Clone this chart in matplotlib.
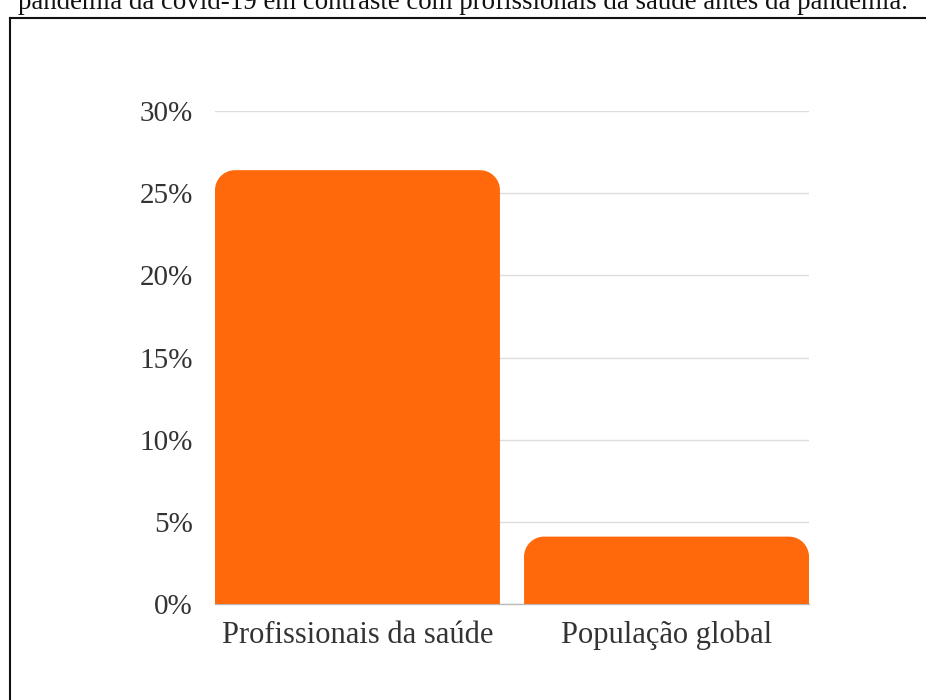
import numpy as np
import matplotlib
matplotlib.use('Agg')
from matplotlib import pyplot as plt
from matplotlib.path import Path
from matplotlib.patches import PathPatch
from matplotlib.lines import Line2D

# data
categories = ['Profissionais da saúde', 'População global']
values = [26.4, 4.1]
yticks = [0, 5, 10, 15, 20, 25, 30]
ytick_labels = ['0%', '5%', '10%', '15%', '20%', '25%', '30%']
title = 'pandemia da covid-19 em contraste com profissionais da saúde antes da pandemia.'

bar_color = '#ff690b'
text_color = '#333333'

plt.rcParams['font.family'] = ['Liberation Serif', 'DejaVu Serif']

fig = plt.figure(figsize=(9.26, 7.0), dpi=100)
ax = fig.add_axes([215/926, 96/700, 594/926, 493/700])

x = np.arange(len(categories))
bar_w = 0.922
bars = ax.bar(x, values, width=bar_w, color=bar_color, zorder=3)

# bars touch the plot edges
ax.set_xlim(-bar_w / 2, len(categories) - 1 + bar_w / 2)
ax.set_ylim(0, 30)

# swap each bar for a path with rounded top corners (radius in pixels)
fig.canvas.draw()
px_per_x = ax.bbox.width / (ax.get_xlim()[1] - ax.get_xlim()[0])
px_per_y = ax.bbox.height / (ax.get_ylim()[1] - ax.get_ylim()[0])
r_px = 20
rx = r_px / px_per_x
ry = r_px / px_per_y
k = 0.5523
for b in bars:
    x0, w, h = b.get_x(), b.get_width(), b.get_height()
    x1 = x0 + w
    r_y = min(ry, h)
    verts = [
        (x0, 0), (x0, h - r_y),
        (x0, h - r_y + k * r_y), (x0 + rx - k * rx, h), (x0 + rx, h),
        (x1 - rx, h),
        (x1 - rx + k * rx, h), (x1, h - r_y + k * r_y), (x1, h - r_y),
        (x1, 0), (x0, 0),
    ]
    codes = [Path.MOVETO, Path.LINETO,
             Path.CURVE4, Path.CURVE4, Path.CURVE4,
             Path.LINETO,
             Path.CURVE4, Path.CURVE4, Path.CURVE4,
             Path.LINETO, Path.CLOSEPOLY]
    ax.add_patch(PathPatch(Path(verts, codes), facecolor=bar_color,
                           edgecolor='none', zorder=3))
    b.remove()

ax.set_yticks(yticks)
ax.set_yticklabels(ytick_labels)
ax.set_xticks(x)
ax.set_xticklabels(categories)
ax.tick_params(axis='y', length=0, pad=16, labelsize=21, labelcolor=text_color)
ax.tick_params(axis='x', length=0, pad=12, labelsize=22, labelcolor=text_color)

ax.grid(axis='y', color='#dddddd', linewidth=1, zorder=0)
for s in ['top', 'right', 'left']:
    ax.spines[s].set_visible(False)
ax.spines['bottom'].set_color('#bbbbbb')
ax.spines['bottom'].set_linewidth(1)

# frame of the surrounding box and the clipped title above it
fig.add_artist(Line2D([9.5/926, 9.5/926], [0, 682/700], color='#111111', lw=1.5))
fig.add_artist(Line2D([9.5/926, 1], [682/700, 682/700], color='#111111', lw=1.5))
fig.text(463/926, 691/700, title, ha='center', va='baseline', fontsize=19.4, color='#111111')

fig.savefig('out.png', dpi=100)
